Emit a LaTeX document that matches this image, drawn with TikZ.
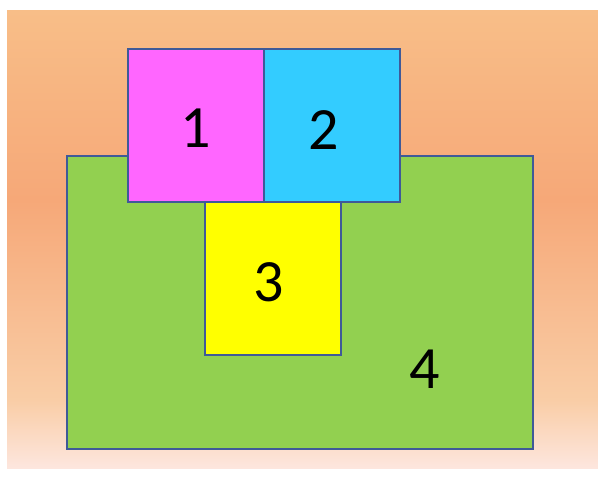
\documentclass[tikz,border=0pt]{standalone}
\usepackage{fontspec}
\setmainfont{Carlito}
\definecolor{bgtop}{HTML}{F8BE88}
\definecolor{bgmid}{HTML}{F6A878}
\definecolor{bglow}{HTML}{F9CDA6}
\definecolor{bgbot}{HTML}{FDE6DE}
\definecolor{edge}{HTML}{3F5A98}
\definecolor{pinkc}{HTML}{FF66FF}
\definecolor{bluec}{HTML}{33CCFF}
\definecolor{yellowc}{HTML}{FFFF00}
\definecolor{greenc}{HTML}{92D050}
\tikzset{
  box/.style={draw=edge, line width=1.8pt},
  lbl/.style={font=\fontsize{60}{60}\selectfont, text=black, inner sep=0pt}
}
\begin{document}
\begin{tikzpicture}[x=1pt,y=-1pt]
\useasboundingbox (0,0) rectangle (598,477);
\fill[white] (0,0) rectangle (598,477);
\shade[top color=bgtop, bottom color=bgmid, shading angle=0] (7,10) rectangle (598,200);
\shade[top color=bgmid, bottom color=bglow] (7,200) rectangle (598,400);
\shade[top color=bglow, bottom color=bgbot] (7,400) rectangle (598,468);
% boxes
\path[box, fill=greenc] (67,156) rectangle (533,449);
\coordinate (g1) at (67,156); \coordinate (g2) at (533,449);
\node[box, fill=pinkc, minimum width=136pt, minimum height=153pt, inner sep=0pt, anchor=north west] (b1) at (127,48) {};
\node[box, fill=bluec, minimum width=136pt, minimum height=153pt, inner sep=0pt, anchor=north west] (b2) at (263,48) {};
\node[box, fill=yellowc, minimum width=136pt, minimum height=153pt, inner sep=0pt, anchor=north west] (b3) at (204,201) {};
\node[lbl] (t1) at (196,128) {1};
\node[lbl] (t2) at (324,130) {2};
\node[lbl] (t3) at (269,282) {3};
\node[lbl] (t4) at (425,369) {4};
\end{tikzpicture}
\end{document}
